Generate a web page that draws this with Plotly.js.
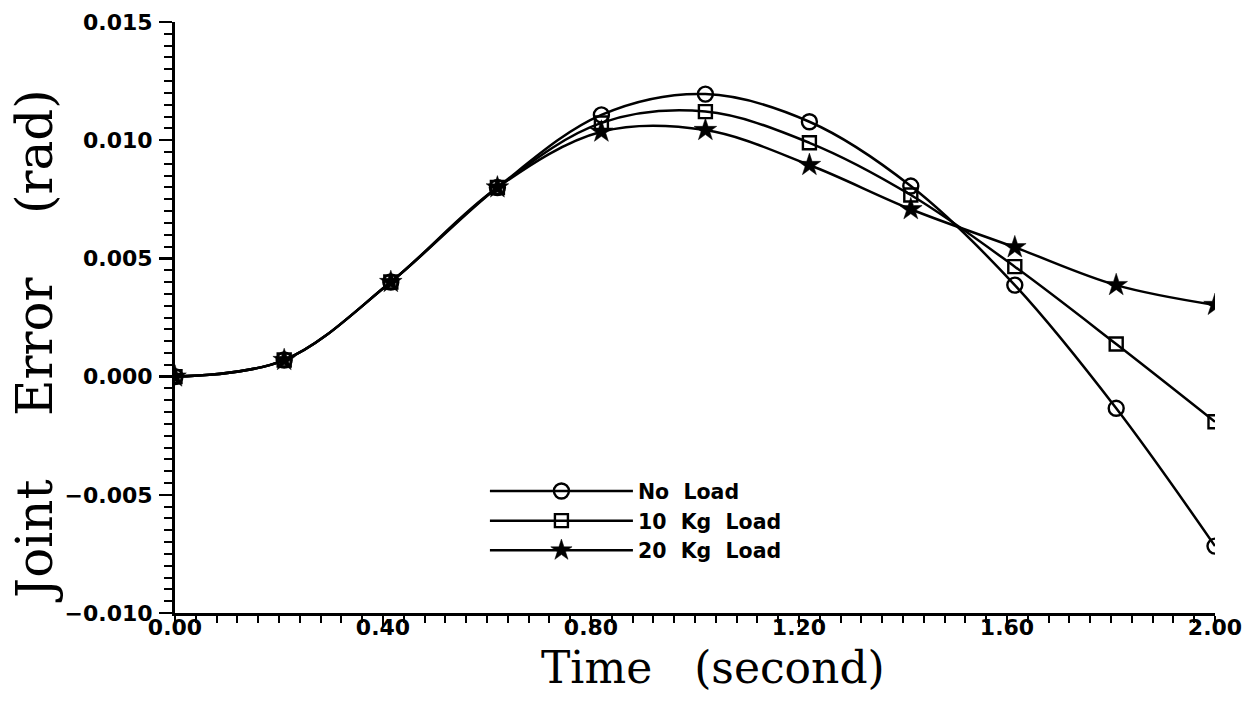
<!DOCTYPE html>
<html><head><meta charset="utf-8">
<script src="https://cdn.plot.ly/plotly-3.0.1.min.js"></script>
<style>html,body{margin:0;padding:0;background:#fff}#chart{width:1243px;height:702px}</style>
</head><body><div id="chart"></div>
<script>
const time = [0, 0.21, 0.415, 0.62, 0.82, 1.02, 1.22, 1.415, 1.615, 1.81, 2.0];
// Joint error (rad) for each load case
const noLoad = [0, 0.0007, 0.0040, 0.0080, 0.01107, 0.01195, 0.01078, 0.00806, 0.00387, -0.00134, -0.00717];
const load10 = [0, 0.0007, 0.0040, 0.0080, 0.01073, 0.01121, 0.00989, 0.00768, 0.00465, 0.00138, -0.00191];
const load20 = [0, 0.0007, 0.0040, 0.0080, 0.01036, 0.01043, 0.00895, 0.00708, 0.00547, 0.00387, 0.00303];
const seriesNames = ['No\u00a0\u00a0Load', '10\u00a0\u00a0Kg\u00a0\u00a0Load', '20\u00a0\u00a0Kg\u00a0\u00a0Load'];
const xTitle = 'Time\u00a0\u00a0\u00a0(second)';
const yTitle = 'Joint\u00a0\u00a0\u00a0\u00a0Error\u00a0\u00a0\u00a0\u00a0(rad)';

const lineStyle = {color: 'black', width: 2.5, shape: 'spline', smoothing: 1};
const traces = [
  {x: time, y: noLoad, name: seriesNames[0], mode: 'lines+markers', line: lineStyle,
   marker: {symbol: 'circle-open', size: 15, color: 'black', line: {width: 2.4, color: 'black'}}},
  {x: time, y: load10, name: seriesNames[1], mode: 'lines+markers', line: lineStyle,
   marker: {symbol: 'square-open', size: 13, color: 'black', line: {width: 2.4, color: 'black'}}},
  {x: time, y: load20, name: seriesNames[2], mode: 'lines+markers', line: lineStyle,
   marker: {symbol: 'star', size: 17, color: 'black', line: {width: 0.5, color: 'black'}}}
];

const tickFont = {family: 'DejaVu Sans', size: 22, color: 'black', weight: 'bold'};
const layout = {
  width: 1243, height: 702,
  margin: {l: 175, r: 28, t: 22, b: 89},
  paper_bgcolor: 'white', plot_bgcolor: 'white',
  showlegend: true,
  legend: {x: 0.298, y: 0.240, xanchor: 'left', yanchor: 'top', bgcolor: 'rgba(0,0,0,0)',
           itemwidth: 143, tracegroupgap: 0,
           font: {family: 'DejaVu Sans', size: 20.5, color: 'black', weight: 'bold'}},
  xaxis: {
    range: [0, 2.0], dtick: 0.4, tick0: 0, tickformat: '.2f',
    showline: true, linewidth: 3, linecolor: 'black', mirror: false,
    showgrid: false, zeroline: false,
    ticks: 'outside', ticklen: 11, tickwidth: 2.5, tickcolor: 'black',
    ticklabelstandoff: -18,
    tickfont: tickFont,
    minor: {dtick: 0.04, tick0: 0, ticks: 'outside', ticklen: 7, tickwidth: 2, tickcolor: 'black', showgrid: false}
  },
  yaxis: {
    range: [-0.010, 0.015], dtick: 0.005, tick0: 0, tickformat: '.3f',
    showline: true, linewidth: 3, linecolor: 'black', mirror: false,
    showgrid: false, zeroline: false,
    ticks: 'outside', ticklen: 13, tickwidth: 2.5, tickcolor: 'black',
    ticklabelstandoff: 2,
    tickfont: tickFont,
    minor: {dtick: 0.0005, tick0: 0, ticks: 'outside', ticklen: 8, tickwidth: 2, tickcolor: 'black', showgrid: false}
  },
  annotations: [
    {text: xTitle, xref: 'paper', yref: 'paper', x: 0.517, y: -0.093, xanchor: 'center', yanchor: 'middle',
     showarrow: false, borderpad: 0, font: {family: 'DejaVu Serif', size: 44, color: 'black'}},
    {text: yTitle, xref: 'paper', yref: 'paper', x: -0.1346, y: 0.452, xanchor: 'center', yanchor: 'middle',
     textangle: -90, showarrow: false, font: {family: 'DejaVu Serif', size: 50, color: 'black'}}
  ]
};

Plotly.newPlot('chart', traces, layout, {displayModeBar: false, staticPlot: true});
</script>
</body></html>
